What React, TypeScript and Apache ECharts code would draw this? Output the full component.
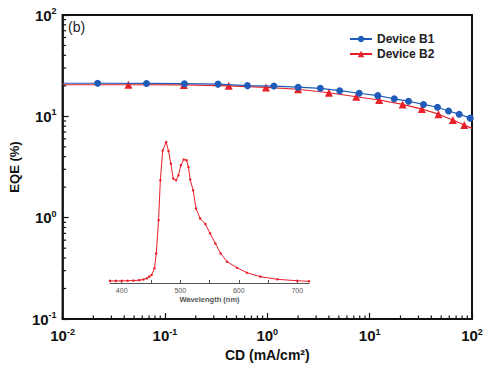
import React, { useEffect, useRef } from "react";
import * as echarts from "echarts";

// Main plot: current density (mA/cm^2) vs EQE (%)
const b1CD = [0.01, 0.022, 0.066, 0.155, 0.33, 0.64, 1.16, 2.0, 3.3, 5.1, 7.9, 12, 17.4, 24, 33.6, 46, 59, 75, 96, 100];
const b1EQE = [21.2, 21.2, 21.1, 21.0, 20.8, 20.1, 19.9, 19.4, 18.9, 17.9, 16.9, 16.0, 14.9, 14.1, 13.1, 12.3, 11.3, 10.5, 9.6, 9.5];
const b1Hidden = [true, false, false, false, false, false, false, false, false, false, false, false, false, false, false, false, false, false, false, true];

const b2CD = [0.01, 0.044, 0.153, 0.42, 0.97, 2.0, 4.0, 7.4, 12.4, 21, 32.4, 47, 65, 84, 100];
const b2EQE = [20.5, 20.5, 20.4, 20.0, 19.3, 18.5, 17.1, 15.6, 14.5, 13.1, 11.8, 10.5, 9.2, 8.2, 7.6];
const b2Hidden = [true, false, false, false, false, false, false, false, false, false, false, false, false, false, true];

// Inset: EL spectrum
const wavelength = [380, 390, 400, 410, 420, 430, 437, 443, 447, 451, 456, 459, 463, 466, 470, 476, 480, 484, 488, 493, 497, 501, 506, 511, 514, 517, 522, 527, 534, 543, 551, 560, 569, 580, 597, 614, 637, 666, 700, 720];
const intensity = [0.015, 0.015, 0.015, 0.016, 0.017, 0.02, 0.025, 0.033, 0.045, 0.057, 0.104, 0.21, 0.446, 0.729, 0.94, 1.0, 0.936, 0.847, 0.741, 0.729, 0.764, 0.835, 0.876, 0.87, 0.823, 0.734, 0.658, 0.528, 0.458, 0.418, 0.352, 0.281, 0.21, 0.151, 0.108, 0.073, 0.045, 0.026, 0.016, 0.012];

const xDecades = [0.01, 0.1, 1, 10];
const yDecades = [0.1, 1, 10];
const minorSteps = [2, 3, 4, 5, 6, 7, 8, 9];

const seriesNames = ["Device B1", "Device B2"];
const xAxisName = "CD (mA/cm²)";
const yAxisName = "EQE (%)";
const insetAxisName = "Wavelength (nm)";
const panelLabel = "(b)";

const FONT = "'Liberation Sans', Arial, Helvetica, sans-serif";
const BLUE = "#1f5bb8";
const RED = "#e8202a";

export default function App() {
  const ref = useRef<HTMLDivElement>(null);
  useEffect(() => {
    if (!ref.current) return;
    const chart = echarts.init(ref.current, null, { renderer: "svg" });

    const tickData: number[][] = [];
    xDecades.forEach((d) => minorSteps.forEach((m) => tickData.push([d * m, 0.1, 0])));
    yDecades.forEach((d) => minorSteps.forEach((m) => tickData.push([0.01, d * m, 1])));

    const pow10 = (v: number) => {
      const e = Math.round(Math.log10(v));
      return `{b|10}{s|${e}}`;
    };
    const rich = {
      b: { fontSize: 15, fontWeight: "bold", fontFamily: FONT, color: "#111" },
      s: { fontSize: 9, fontWeight: "bold", fontFamily: FONT, color: "#111", padding: [0, 0, 8, 0] },
    };

    const mk = (xs: number[], ys: number[], hid: boolean[]) =>
      xs.map((x, i) => (hid[i] ? { value: [x, ys[i]], symbol: "none" } : { value: [x, ys[i]] }));

    chart.setOption({
      animation: false,
      backgroundColor: "#fff",
      textStyle: { fontFamily: FONT },
      grid: [
        { left: 56, top: 15, width: 416, height: 304, show: true, borderColor: "#111", borderWidth: 2, backgroundColor: "transparent" },
        { left: 110, top: 135, width: 199, height: 148 },
      ],
      legend: {
        orient: "vertical",
        left: 344,
        top: 28,
        itemWidth: 22,
        itemHeight: 8,
        itemGap: 3,
        data: seriesNames,
        textStyle: { fontSize: 12, fontWeight: "bold", color: "#222", fontFamily: FONT },
      },
      graphic: [
        { type: "text", left: 68, top: 20, style: { text: panelLabel, fontSize: 14, fill: "#222", fontFamily: FONT } },
      ],
      xAxis: [
        {
          type: "log",
          logBase: 10,
          gridIndex: 0,
          min: 0.01,
          max: 100,
          name: xAxisName,
          nameLocation: "middle",
          nameGap: 27,
          nameTextStyle: { fontSize: 14, fontWeight: "bold", color: "#111", fontFamily: FONT },
          axisLine: { lineStyle: { color: "#111", width: 1.5 } },
          axisTick: { inside: true, length: 6, lineStyle: { color: "#111", width: 1.2 } },
          axisLabel: { formatter: pow10, rich, margin: 8 },
          splitLine: { show: false },
        },
        {
          type: "value",
          gridIndex: 1,
          min: 380,
          max: 720,
          name: insetAxisName,
          nameLocation: "middle",
          nameGap: 12,
          nameTextStyle: { fontSize: 7.5, fontWeight: "bold", color: "#555", fontFamily: FONT },
          axisLine: { lineStyle: { color: "#555", width: 1 } },
          axisTick: { inside: true, length: 3, customValues: [400, 450, 500, 550, 600, 650, 700], lineStyle: { color: "#555" } },
          axisLabel: { customValues: [400, 500, 600, 700], fontSize: 7, color: "#555", margin: 4 },
          splitLine: { show: false },
        },
      ],
      yAxis: [
        {
          type: "log",
          logBase: 10,
          gridIndex: 0,
          min: 0.1,
          max: 100,
          name: yAxisName,
          nameLocation: "middle",
          nameGap: 24,
          nameTextStyle: { fontSize: 13, fontWeight: "bold", color: "#111", fontFamily: FONT },
          axisLine: { lineStyle: { color: "#111", width: 1.5 } },
          axisTick: { inside: true, length: 6, lineStyle: { color: "#111", width: 1.2 } },
          axisLabel: { formatter: pow10, rich, margin: 6 },
          splitLine: { show: false },
        },
        { type: "value", gridIndex: 1, min: 0, max: 1.05, show: false },
      ],
      series: [
        {
          name: seriesNames[0],
          type: "line",
          xAxisIndex: 0,
          yAxisIndex: 0,
          data: mk(b1CD, b1EQE, b1Hidden),
          symbol: "circle",
          symbolSize: 7,
          itemStyle: { color: BLUE },
          lineStyle: { color: BLUE, width: 1.2 },
          z: 3,
        },
        {
          name: seriesNames[1],
          type: "line",
          xAxisIndex: 0,
          yAxisIndex: 0,
          data: mk(b2CD, b2EQE, b2Hidden),
          symbol: "triangle",
          symbolSize: 8,
          itemStyle: { color: RED },
          lineStyle: { color: RED, width: 1.2 },
          z: 2,
        },
        {
          type: "custom",
          xAxisIndex: 0,
          yAxisIndex: 0,
          silent: true,
          data: tickData,
          renderItem: (params: any, api: any) => {
            const pt = api.coord([api.value(0), api.value(1)]);
            const kind = api.value(2);
            const end = kind === 0 ? [pt[0], pt[1] - 3.5] : [pt[0] + 3.5, pt[1]];
            return {
              type: "line",
              shape: { x1: pt[0], y1: pt[1], x2: end[0], y2: end[1] },
              style: { stroke: "#111", lineWidth: 1.2 },
            };
          },
          z: 5,
        },
        {
          type: "line",
          xAxisIndex: 1,
          yAxisIndex: 1,
          data: wavelength.map((w, i) => [w, intensity[i]]),
          symbol: "circle",
          symbolSize: 2.5,
          itemStyle: { color: RED },
          lineStyle: { color: RED, width: 1 },
        },
      ],
    });
    return () => chart.dispose();
  }, []);
  return <div ref={ref} style={{ width: 500, height: 372, position: "absolute", left: 0, top: 0 }} />;
}
